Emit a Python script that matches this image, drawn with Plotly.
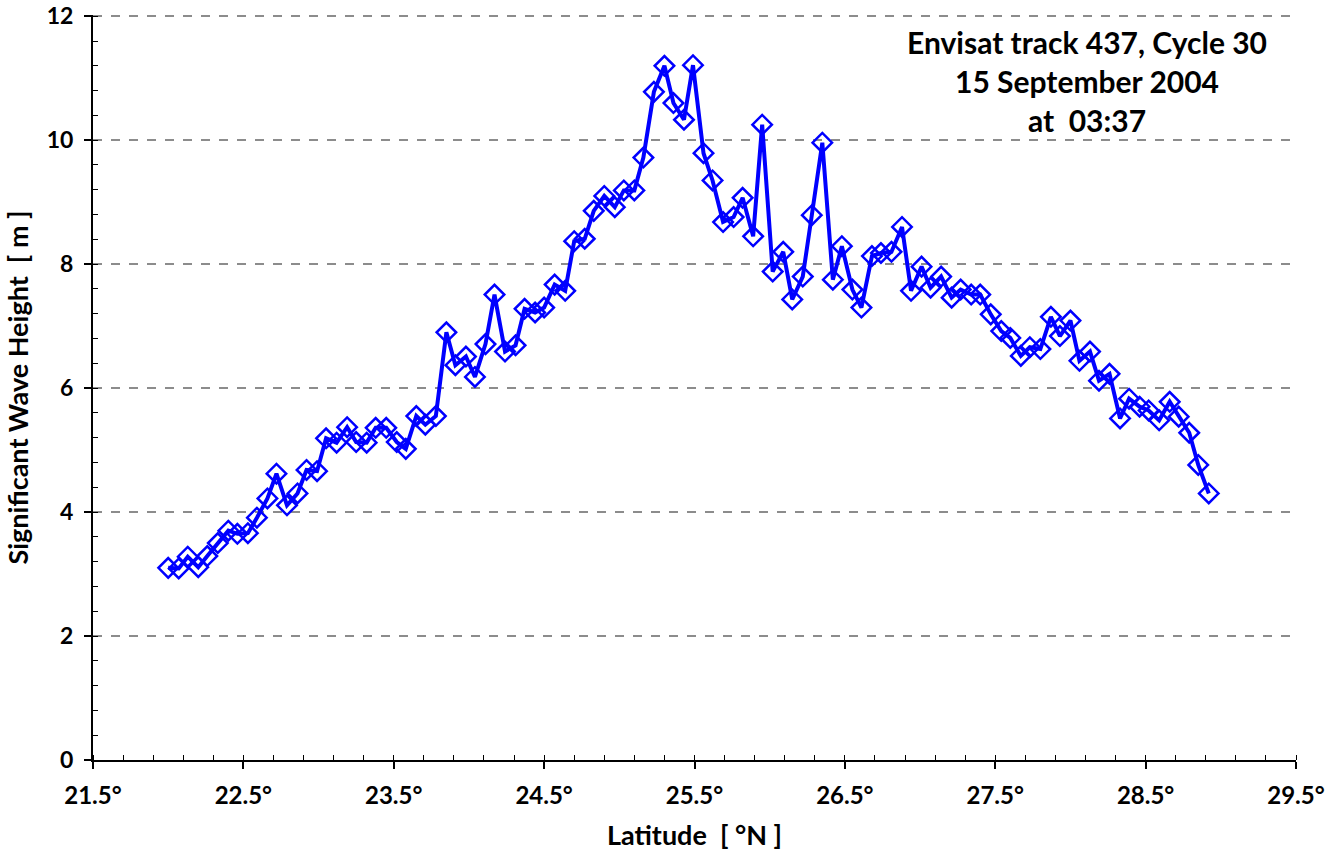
import plotly.graph_objects as go

# Along-track latitude (°N) of each altimeter sample
latitude = [
    22.00, 22.07, 22.13, 22.20, 22.26, 22.33, 22.40, 22.46, 22.53, 22.59,
    22.66, 22.72, 22.79, 22.86, 22.92, 22.99, 23.05, 23.12, 23.19, 23.25,
    23.32, 23.38, 23.45, 23.52, 23.58, 23.65, 23.71, 23.78, 23.85, 23.91,
    23.98, 24.04, 24.11, 24.17, 24.24, 24.31, 24.37, 24.44, 24.50, 24.57,
    24.64, 24.70, 24.77, 24.83, 24.90, 24.97, 25.03, 25.10, 25.16, 25.23,
    25.30, 25.36, 25.43, 25.49, 25.56, 25.62, 25.69, 25.76, 25.82, 25.89,
    25.95, 26.02, 26.09, 26.15, 26.22, 26.28, 26.35, 26.42, 26.48, 26.55,
    26.61, 26.68, 26.74, 26.81, 26.88, 26.94, 27.01, 27.07, 27.14, 27.21,
    27.27, 27.34, 27.40, 27.47, 27.54, 27.60, 27.67, 27.73, 27.80, 27.87,
    27.93, 28.00, 28.06, 28.13, 28.19, 28.26, 28.33, 28.39, 28.46, 28.52,
    28.59, 28.66, 28.72, 28.79, 28.85, 28.92,
]

# Significant wave height (m) along the track
swh = [
    3.10, 3.09, 3.28, 3.11, 3.29, 3.50, 3.70, 3.65, 3.66, 3.91,
    4.22, 4.62, 4.11, 4.30, 4.68, 4.66, 5.19, 5.12, 5.37, 5.13,
    5.12, 5.36, 5.36, 5.13, 5.02, 5.55, 5.41, 5.55, 6.90, 6.37,
    6.51, 6.18, 6.71, 7.51, 6.59, 6.69, 7.28, 7.22, 7.30, 7.67,
    7.57, 8.37, 8.41, 8.86, 9.10, 8.92, 9.19, 9.19, 9.72, 10.78,
    11.20, 10.60, 10.33, 11.21, 9.79, 9.35, 8.68, 8.76, 9.07, 8.45,
    10.25, 7.88, 8.20, 7.43, 7.80, 8.79, 9.96, 7.75, 8.29, 7.59,
    7.30, 8.13, 8.18, 8.20, 8.60, 7.57, 7.96, 7.62, 7.80, 7.46,
    7.59, 7.51, 7.51, 7.19, 6.92, 6.81, 6.52, 6.66, 6.63, 7.15,
    6.84, 7.09, 6.44, 6.59, 6.12, 6.23, 5.51, 5.83, 5.70, 5.64,
    5.48, 5.78, 5.54, 5.28, 4.76, 4.30,
]

x_tick_vals = [21.5, 22.5, 23.5, 24.5, 25.5, 26.5, 27.5, 28.5, 29.5]
x_tick_text = ["21.5°", "22.5°", "23.5°", "24.5°", "25.5°", "26.5°", "27.5°", "28.5°", "29.5°"]
y_tick_vals = [0, 2, 4, 6, 8, 10, 12]
y_tick_text = ["0", "2", "4", "6", "8", "10", "12"]

FONT = "Lato, 'Open Sans', 'DejaVu Sans', sans-serif"


def bold(s):
    return "<b>" + s + "</b>"


fig = go.Figure()
fig.add_trace(go.Scatter(
    x=latitude,
    y=swh,
    mode="lines+markers",
    line=dict(color="#0000FF", width=4),
    marker=dict(symbol="diamond-open", size=15, color="#0000FF",
                line=dict(color="#0000FF", width=2.5)),
    showlegend=False,
    hoverinfo="x+y",
))

fig.update_layout(
    width=1326,
    height=853,
    margin=dict(l=93, r=30, t=15, b=93),
    paper_bgcolor="white",
    plot_bgcolor="white",
    font=dict(family=FONT, size=23, color="black"),
    xaxis=dict(
        range=[21.5, 29.5],
        tickvals=x_tick_vals,
        ticktext=[bold(t) for t in x_tick_text],
        ticks="outside",
        ticklen=7,
        tickwidth=1.5,
        tickcolor="black",
        ticklabelstandoff=6,
        ticklabeloverflow="allow",
        automargin=False,
        showline=True,
        linecolor="black",
        linewidth=2,
        showgrid=False,
        zeroline=False,
        tickfont=dict(family=FONT, size=24, color="black"),
        minor=dict(dtick=0.2, tick0=21.5, ticks="inside", ticklen=5,
                   tickwidth=1, tickcolor="black", showgrid=False),
        title=dict(text=bold("Latitude  [ °N ]"), standoff=18,
                   font=dict(family=FONT, size=27, color="black")),
    ),
    yaxis=dict(
        range=[0, 12.02],
        tickvals=y_tick_vals,
        ticktext=[bold(t) for t in y_tick_text],
        ticks="outside",
        ticklen=7,
        tickwidth=1.5,
        tickcolor="black",
        ticklabelstandoff=6,
        ticklabeloverflow="allow",
        automargin=False,
        showline=True,
        linecolor="black",
        linewidth=2,
        showgrid=True,
        gridcolor="#8c8c8c",
        gridwidth=2,
        griddash="dash",
        zeroline=False,
        tickfont=dict(family=FONT, size=23, color="black"),
        minor=dict(dtick=0.4, tick0=0, ticks="inside", ticklen=5,
                   tickwidth=1, tickcolor="black", showgrid=False),
        title=dict(text=bold("Significant Wave Height  [ m ]"), standoff=10,
                   font=dict(family=FONT, size=27, color="black")),
    ),
    annotations=[dict(
        text=bold("Envisat track 437, Cycle 30<br>15 September 2004<br>at  03:37"),
        xref="paper", yref="paper",
        x=0.826, y=0.99,
        xanchor="center", yanchor="top",
        showarrow=False,
        align="center",
        font=dict(family=FONT, size=30, color="black"),
    )],
)

fig.write_html("out.html")
